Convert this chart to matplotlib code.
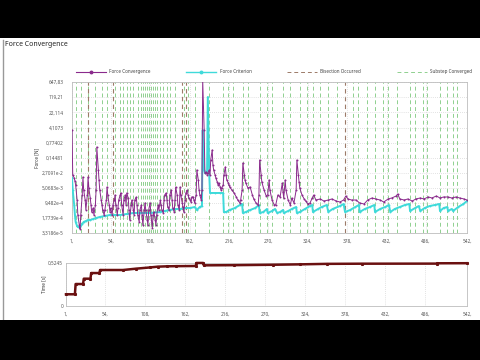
import matplotlib
matplotlib.use("Agg")
import matplotlib.pyplot as plt
from matplotlib.lines import Line2D
from matplotlib.patches import Rectangle

plt.rcParams['font.family'] = ['Noto Sans', 'DejaVu Sans']

title = "Force Convergence"

conv_iter = [1, 2, 4, 5, 6, 8, 9, 11, 12, 13, 15, 16, 17, 19, 20, 22, 23, 24, 26, 27,
             28, 30, 31, 33, 34, 35, 37, 38, 39, 41, 42, 43, 45, 46, 48, 49, 50, 52, 53, 54,
             56, 57, 59, 60, 61, 63, 64, 65, 67, 68, 69, 71, 72, 74, 75, 76, 78, 79, 80, 82,
             83, 85, 86, 87, 89, 90, 91, 93, 94, 96, 97, 98, 100, 101, 102, 104, 105, 106, 108, 109,
             111, 112, 113, 115, 116, 117, 119, 120, 122, 123, 124, 126, 127, 128, 130, 131, 132, 134, 135, 137,
             138, 139, 141, 142, 143, 145, 146, 148, 149, 150, 152, 153, 154, 156, 157, 159, 160, 161, 163, 164,
             165, 167, 168, 169, 171, 172, 174, 175, 176, 178, 179, 180, 182, 183, 185, 186, 187, 189, 190,
             191, 193, 194, 195, 197, 198, 200, 201, 202, 204, 205, 206, 208, 209, 211, 212, 213, 215, 216, 217,
             220, 223, 226, 228, 231, 232, 234, 235, 237, 238, 239, 242, 245, 248, 250, 253, 256, 257, 258, 260,
             261, 264, 267, 269, 271, 272, 275, 278, 280, 283, 286, 289, 290, 291, 293, 294, 297, 300, 302, 305,
             308, 309, 311, 312, 313, 316, 319, 321, 324, 327, 330, 332, 335, 341, 346, 352, 357, 363, 368, 373,
             376, 379, 384, 390, 395, 401, 406, 412, 417, 423, 428, 434, 439, 445, 447, 450, 456, 461, 467, 472,
             478, 483, 489, 494, 500, 505, 510, 516, 521, 527, 532, 538, 542]
conv_force = [3.1, 0.021, 0.015, 0.0108, 0.0069, 0.0013, 2.46e-4, 8.08e-5, 5.18e-5, 2.46e-4,
              0.00227, 0.0168, 0.00396, 0.0013, 4.28e-4, 0.00227, 0.0168, 0.00494, 0.00163, 7.47e-4,
              3.43e-4, 5.35e-4, 2.46e-4, 7.47e-4, 0.00396, 0.47, 0.0366, 0.012, 0.00396, 0.0013,
              7.47e-4, 4.28e-4, 2.46e-4, 4.28e-4, 0.0013, 0.00553, 0.00227, 7.47e-4, 3.43e-4, 5.35e-4,
              2.46e-4, 7.47e-4, 0.0013, 0.00227, 7.47e-4, 2.46e-4, 5.35e-4, 0.0013, 0.00227, 0.00284,
              7.47e-4, 2.46e-4, 0.0013, 0.00227, 7.47e-4, 0.00284, 0.00163, 4.28e-4, 1.41e-4, 7.47e-4,
              0.0013, 4.28e-4, 2.46e-4, 0.0013, 0.00182, 7.47e-4, 2.46e-4, 1.13e-4, 4.28e-4, 7.47e-4,
              2.46e-4, 8.08e-5, 4.28e-4, 9.33e-4, 4.28e-4, 1.41e-4, 8.08e-5, 4.28e-4, 9.33e-4, 2.46e-4,
              5.79e-5, 2.46e-4, 3.43e-4, 1.41e-4, 8.08e-5, 2.46e-4, 7.47e-4, 4.28e-4, 0.0013, 7.47e-4,
              4.28e-4, 3.07e-4, 0.0013, 0.00227, 0.00284, 0.0013, 5.98e-4, 4.28e-4, 0.00227, 0.00396,
              0.0013, 5.35e-4, 3.43e-4, 0.0013, 0.00553, 0.00227, 7.47e-4, 4.28e-4, 0.00553, 0.00227,
              9.33e-4, 5.98e-4, 3.43e-4, 0.0013, 0.00284, 0.00396, 0.00227, 0.00163, 0.0013, 0.00104,
              0.00182, 0.00182, 0.0013, 9.33e-4, 0.00227, 0.0366, 0.012, 0.00396, 0.00227, 0.0013,
              0.00396, 800.0, 3.1, 0.0262, 0.0293, 0.021, 0.0262, 0.0366, 0.021,
              0.111, 0.34, 0.0638, 0.0366, 0.021, 0.015, 0.00964, 0.0069, 0.00863, 0.00553,
              0.00396, 0.00494, 0.0069, 0.021, 0.0511, 0.021, 0.012, 0.00863, 0.0069, 0.00553,
              0.00396, 0.00284, 0.00182, 0.0013, 9.33e-4, 0.0013, 0.00396, 0.0796, 0.021, 0.012,
              0.00863, 0.00494, 0.00553, 0.00227, 0.00146, 9.33e-4, 7.47e-4, 0.00227, 0.111, 0.021,
              0.00964, 0.00396, 0.00203, 0.00227, 0.012, 0.00396, 0.0013, 7.47e-4, 7.47e-4, 0.00227,
              0.00182, 0.00863, 0.00317, 0.00163, 0.012, 0.00396, 0.0013, 7.47e-4, 0.00163, 9.33e-4,
              0.00396, 0.111, 0.021, 0.00964, 0.00494, 0.00227, 0.00146, 0.00116, 8.35e-4, 9.33e-4,
              0.00163, 0.00227, 0.0013, 0.00146, 0.00116, 0.0013, 0.00146, 0.00116, 0.00104, 0.0013,
              0.00203, 0.00146, 0.0013, 0.0013, 9.33e-4, 8.35e-4, 0.0013, 0.00163, 0.00146, 0.0013,
              0.00104, 0.00146, 0.00163, 0.00203, 0.00254, 0.00146, 0.0013, 0.00146, 0.00116, 0.00146,
              0.00163, 0.00146, 0.00182, 0.00163, 0.00203, 0.00163, 0.00182, 0.00182, 0.00163, 0.00182,
              0.00163, 0.00146, 0.0013]

crit_iter = [1, 2, 4, 5, 6, 8, 9, 12, 15, 17, 20, 23, 26, 30, 34, 39, 46, 53, 60, 67,
             76, 85, 94, 108, 122, 128, 135, 142, 149, 156, 163, 169, 172, 176, 179, 180, 182, 183, 186, 187,
             189, 190, 197, 204, 208, 209, 212, 217, 224, 231, 234, 235, 239, 245, 252, 257, 258, 263, 268, 269,
             275, 279, 282, 286, 290, 291, 297, 302, 308, 309, 313, 320, 327, 330, 331, 338, 343, 350, 352, 358,
             368, 373, 375, 382, 389, 394, 395, 402, 409, 415, 416, 423, 430, 435, 437, 443, 450, 457, 463, 464,
             471, 476, 478, 484, 491, 498, 504, 505, 510, 515, 516, 521, 523, 530, 537, 542]
crit_force = [0.015, 0.00396, 7.47e-4, 2.46e-4, 1.13e-4, 7.23e-5, 6.47e-5, 6.47e-5, 9.03e-5, 1.13e-4,
              1.26e-4, 1.41e-4, 1.41e-4, 1.58e-4, 1.76e-4, 1.97e-4, 2.20e-4, 2.46e-4, 2.46e-4, 2.46e-4,
              2.75e-4, 3.07e-4, 3.07e-4, 3.07e-4, 3.43e-4, 3.83e-4, 4.28e-4, 4.79e-4, 4.79e-4, 5.35e-4,
              5.35e-4, 5.98e-4, 4.28e-4, 5.98e-4, 6.68e-4, 3.1, 0.0366, 0.0262, 0.0293, 122.0,
              0.021, 0.00284, 0.00284, 0.00284, 0.00284, 3.43e-4, 3.43e-4, 4.28e-4, 5.35e-4, 7.47e-4,
              8.35e-4, 3.07e-4, 3.43e-4, 4.28e-4, 5.35e-4, 7.47e-4, 3.07e-4, 3.43e-4, 4.79e-4, 3.07e-4,
              3.83e-4, 4.79e-4, 3.07e-4, 3.43e-4, 4.28e-4, 3.07e-4, 3.83e-4, 4.79e-4, 5.98e-4, 3.07e-4,
              3.43e-4, 4.79e-4, 6.68e-4, 7.47e-4, 3.43e-4, 4.79e-4, 5.98e-4, 7.47e-4, 3.43e-4, 4.79e-4,
              6.68e-4, 8.35e-4, 3.43e-4, 4.28e-4, 5.98e-4, 7.47e-4, 3.43e-4, 4.79e-4, 5.98e-4, 7.47e-4,
              3.43e-4, 4.79e-4, 5.98e-4, 7.47e-4, 3.43e-4, 4.79e-4, 5.98e-4, 7.47e-4, 8.35e-4, 3.83e-4,
              5.35e-4, 6.68e-4, 3.83e-4, 5.35e-4, 6.68e-4, 7.47e-4, 8.35e-4, 3.83e-4, 5.35e-4, 5.98e-4,
              3.83e-4, 4.79e-4, 3.83e-4, 5.98e-4, 8.35e-4, 0.00116]

substep_iters = [6, 13, 23, 32, 42, 49, 60, 67, 71, 76, 80, 85, 91, 95, 98, 101, 104, 106, 109, 112,
                 115, 117, 121, 126, 131, 135, 142, 154, 160, 169, 189, 208, 215, 221, 235, 242, 258, 268,
                 275, 290, 300, 313, 323, 331, 341, 352, 364, 386, 393, 405, 416, 427, 434, 446, 464, 471,
                 482, 487, 505, 515, 523, 528]
bisection_iters = [23, 57, 152, 157, 375]

time_iter = [1, 13, 14, 24, 25, 34, 35, 46, 47, 78, 95, 114, 125, 137, 150, 176, 177, 186, 187,
             227, 280, 317, 353, 400, 501, 502, 542]
time_vals = [0.143, 0.143, 0.268, 0.268, 0.333, 0.333, 0.402, 0.402, 0.439, 0.439, 0.455, 0.470,
             0.480, 0.484, 0.486, 0.488, 0.525, 0.525, 0.496, 0.498, 0.503, 0.508, 0.514, 0.516,
             0.517, 0.521, 0.522]

force_ticks = [3.3186e-5, 1.7739e-4, 9.482e-4, 5.0683e-3, 2.7091e-2, 0.14481, 0.77402,
               4.1073, 22.114, 119.21, 647.83]
force_tick_labels = ["3,3186e-5", "1,7739e-4", "9,482e-4", "5,0683e-3", "2,7091e-2", "0,14481",
                     "0,77402", "4,1073", "22,114", "119,21", "647,83"]
iter_ticks = [1, 54, 108, 162, 216, 270, 324, 378, 432, 486, 542]
iter_tick_labels = ["1,", "54,", "108,", "162,", "216,", "270,", "324,", "378,", "432,", "486,", "542,"]
time_ticks = [0, 0.5245]
time_tick_labels = ["0", "0,5245"]

PURPLE = "#8a2a8c"
CYAN = "#3fdada"
GREEN = "#8fd08f"
BROWN = "#9c7a68"
TIMEC = "#6a1010"
FRAME = "#bdbdbd"
GRID = "#c8c8c8"
FS = 3.4

fig = plt.figure(figsize=(4.8, 3.6), dpi=100)
fig.patch.set_facecolor("white")

# ---- top chart
ax = fig.add_axes([72/480, 1-233/360, 395/480, 151/360])
ax.set_yscale("log")
ax.set_xlim(iter_ticks[0], iter_ticks[-1])
ax.set_ylim(force_ticks[0], force_ticks[-1])
ax.set_yticks(force_ticks)
ax.set_yticklabels(force_tick_labels)
ax.yaxis.set_minor_locator(matplotlib.ticker.NullLocator())
ax.set_xticks(iter_ticks)
ax.set_xticklabels(iter_tick_labels)
ax.tick_params(length=0, labelsize=FS, colors="#555555")
ax.tick_params(axis="y", pad=6)
ax.tick_params(axis="x", pad=4)
ax.grid(True, color=GRID, linestyle=(0, (1, 2)), linewidth=0.5)
for s in ax.spines.values():
    s.set_color(FRAME)
    s.set_linewidth(0.6)
for it in substep_iters:
    ax.axvline(it, color=GREEN, linestyle=(0, (4, 3)), linewidth=0.7, zorder=1)
for it in bisection_iters:
    ax.axvline(it, color=BROWN, linestyle=(0, (4, 3)), linewidth=0.8, zorder=1)
ax.plot(crit_iter, crit_force, color=CYAN, linewidth=1.4, marker="o", markersize=1.3,
        markeredgewidth=0, zorder=3)
ax.plot(conv_iter, conv_force, color=PURPLE, linewidth=0.7, marker="o", markersize=1.4,
        markeredgewidth=0, zorder=4)
ax.set_ylabel("Force [N]", fontsize=FS, color="#333333")
ax.yaxis.set_label_coords((39 - 72) / 395, 0.5)

# ---- legend
handles = [
    Line2D([0, 0.5, 1], [0, 0, 0], color=PURPLE, linewidth=0.8, marker="o", markersize=1.8,
           markevery=[1], label="Force Convergence"),
    Line2D([0, 0.5, 1], [0, 0, 0], color=CYAN, linewidth=1.0, marker="o", markersize=1.8,
           markevery=[1], label="Force Criterion"),
    Line2D([], [], color=BROWN, linewidth=0.7, linestyle=(0, (4, 3)), label="Bisection Occurred"),
    Line2D([], [], color=GREEN, linewidth=0.7, linestyle=(0, (4, 3)), label="Substep Converged"),
]
fig.legend(handles=handles, ncol=4, loc="lower left",
           bbox_to_anchor=(74/480, 1-76/360, 400/480, 12/360), mode="expand",
           frameon=False, fontsize=3.3, handlelength=6.5, handletextpad=0.8,
           borderaxespad=0, labelcolor="#444444")

# ---- bottom chart
ax2 = fig.add_axes([66/480, 1-306/360, 401/480, 43/360])
ax2.set_xlim(iter_ticks[0], iter_ticks[-1])
ax2.set_ylim(time_ticks[0], time_ticks[-1])
ax2.set_yticks(time_ticks)
ax2.set_yticklabels(time_tick_labels)
ax2.set_xticks(iter_ticks)
ax2.set_xticklabels(iter_tick_labels)
ax2.tick_params(length=0, labelsize=FS, colors="#555555")
ax2.tick_params(axis="y", pad=2)
ax2.tick_params(axis="x", pad=4)
ax2.grid(True, axis="x", color=GRID, linestyle=(0, (1, 2)), linewidth=0.5)
for s in ax2.spines.values():
    s.set_color(FRAME)
    s.set_linewidth(0.6)
ax2.plot(time_iter, time_vals, color=TIMEC, linewidth=1.8, marker="s", markersize=1.2,
         clip_on=False, zorder=3)
ax2.set_ylabel("Time [s]", fontsize=FS, color="#333333")
ax2.yaxis.set_label_coords((46 - 66) / 401, 0.5)
ax2.set_xlabel("Cumulative Iteration", fontsize=4.2, color="#333333", labelpad=5)

# ---- title and screen frame
fig.text(5/480, 1-45/360, title, fontsize=5, color="#222222", va="center", ha="left")
fig.add_artist(Line2D([2.5/480, 2.5/480], [1-40/360, 1-320/360], color="#999999",
                      linewidth=1.0, transform=fig.transFigure))
fig.add_artist(Rectangle((0, 1-38/360), 1, 38/360, transform=fig.transFigure,
                         facecolor="black", edgecolor="none", zorder=20))
fig.add_artist(Rectangle((0, 0), 1, 40/360, transform=fig.transFigure,
                         facecolor="black", edgecolor="none", zorder=20))

fig.savefig("out.png", dpi=100)
